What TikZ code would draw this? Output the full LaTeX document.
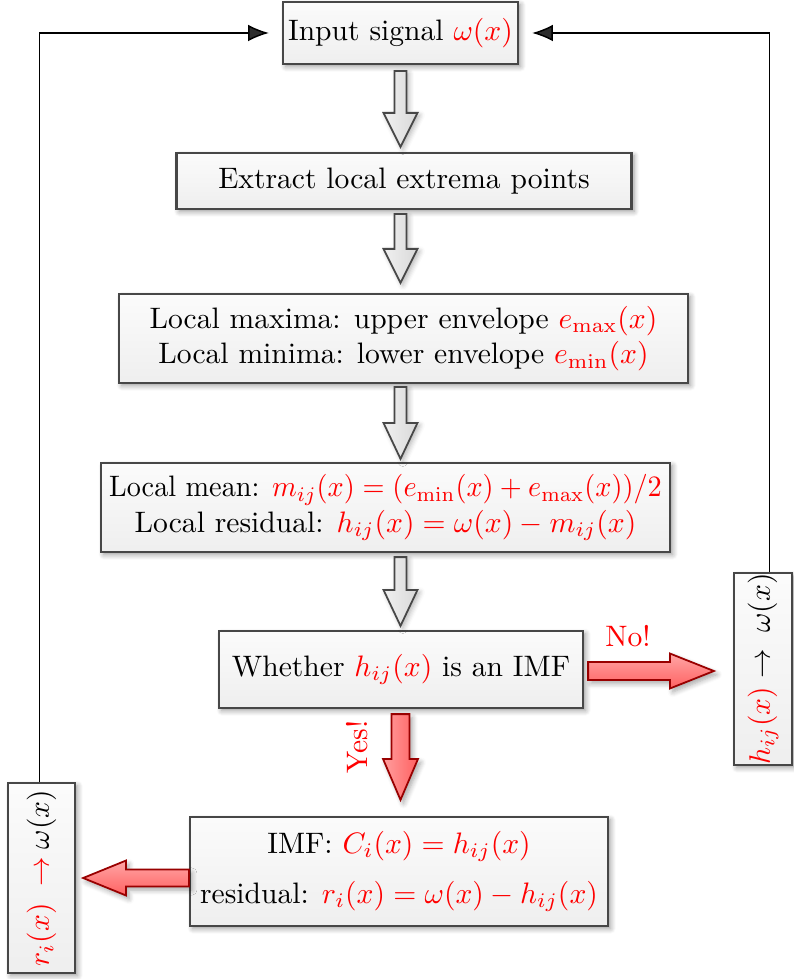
\documentclass[tikz,border=0pt]{standalone}
\usetikzlibrary{shadows,shadows.blur,arrows.meta,calc}
\def\upx{0.338pt}
\newcommand\vblock[6]{\path[#1] let \p1=(#2), \p2=(#3) in
 (\x1-#4*\upx,\y1) -- (\x1+#4*\upx,\y1) -- (\x1+#4*\upx,\y2+#6*\upx) -- (\x1+#5*\upx,\y2+#6*\upx) -- (\x1,\y2) -- (\x1-#5*\upx,\y2+#6*\upx) -- (\x1-#4*\upx,\y2+#6*\upx) -- cycle;}
\newcommand\hblock[6]{\path[#1] let \p1=(#2), \p2=(#3) in
 (\x1,\y1-#4*\upx) -- (\x1,\y1+#4*\upx) -- (\x2-#6*\upx,\y1+#4*\upx) -- (\x2-#6*\upx,\y1+#5*\upx) -- (\x2,\y1) -- (\x2-#6*\upx,\y1-#5*\upx) -- (\x2-#6*\upx,\y1-#4*\upx) -- cycle;}
\newcommand\rd[1]{\textcolor{red}{#1}}
\begin{document}
\begin{tikzpicture}[x=0.338pt, y=-0.338pt,
  box/.style={draw=black!72, line width=0.75pt, top color=gray!3, bottom color=gray!13,
    blur shadow={shadow xshift=0.9pt, shadow yshift=-0.9pt, shadow blur steps=6, shadow opacity=40},
    align=center, inner sep=0pt},
  garrow/.style={draw=black!72, line width=0.6pt, left color=gray!12, right color=gray!30,
    blur shadow={shadow xshift=0.8pt, shadow yshift=-0.8pt, shadow blur steps=5, shadow opacity=30}},
  rarrow/.style={draw=red!60!black, line width=0.6pt, top color=red!35, bottom color=red!62,
    blur shadow={shadow xshift=1pt, shadow yshift=-1.2pt, shadow blur steps=6, shadow opacity=35}},
  rarrowv/.style={draw=red!60!black, line width=0.6pt, left color=red!38, right color=red!62,
    blur shadow={shadow xshift=1pt, shadow yshift=-1.2pt, shadow blur steps=6, shadow opacity=35}},
  fb/.style={line width=0.5pt, -{Latex[length=7pt, width=5.6pt]}},
  lbl/.style={text=red, inner sep=0pt}
]
\useasboundingbox (0,0) rectangle (793,979);

% boxes
\node[box, minimum width=235*\upx, minimum height=62*\upx] (in) at (400.5,33) {Input signal \rd{$\omega(x)$}};
\node[box, minimum width=455*\upx, minimum height=56*\upx] (ex) at (404,181) {Extract local extrema points};
\node[box, minimum width=569*\upx, minimum height=89*\upx] (mx) at (403.5,338.5)
  {Local maxima: upper envelope \rd{$e_{\max}(x)$}\\ Local minima: lower envelope \rd{$e_{\min}(x)$}};
\node[box, minimum width=569*\upx, minimum height=89*\upx] (mn) at (385.5,507.5)
  {\scalebox{0.955}[1]{Local mean: \rd{$m_{ij}(x)=(e_{\min}(x)+e_{\max}(x))/2$}}\\ Local residual: \rd{$h_{ij}(x)=\omega(x)-m_{ij}(x)$}};
\node[box, minimum width=364*\upx, minimum height=77*\upx] (wh) at (401,669.5) {Whether \rd{$h_{ij}(x)$} is an IMF};
\node[box, minimum width=418*\upx, minimum height=109*\upx] (imf) at (399,871.5)
  {IMF: \rd{$C_i(x)=h_{ij}(x)$}\\[5pt] residual: \rd{$r_i(x)=\omega(x)-h_{ij}(x)$}};
\node[box, minimum width=58*\upx, minimum height=192*\upx] (rb) at (763,669)
  {\rotatebox{90}{\rd{$h_{ij}(x)$}$\;\rightarrow\;\omega(x)$}};
\node[box, minimum width=67*\upx, minimum height=190*\upx] (lb) at (41.5,878)
  {\rotatebox{90}{\rd{$r_i(x)\;\rightarrow$}$\;\omega(x)$}};

% gray block arrows
\vblock{garrow}{$(in.south)+(0,6)$}{$(ex.north -| in.south)+(0,-5)$}{6}{17}{34}
\vblock{garrow}{$(ex.south -| in.south)+(0,4)$}{$(mx.north -| in.south)+(0,-10)$}{6}{17}{34}
\vblock{garrow}{$(mx.south -| in.south)+(0,3)$}{$(mn.north -| in.south)+(0,-3)$}{6}{17}{36}
\vblock{garrow}{$(mn.south -| in.south)+(0,4)$}{$(wh.north -| in.south)+(0,-4)$}{6}{17}{36}

% red block arrows
\vblock{rarrowv}{$(wh.south -| in.south)+(0,5)$}{$(imf.north -| in.south)+(0,-16)$}{9}{17.5}{41}
\hblock{rarrow}{$(wh.east)+(4,1.5)$}{$(rb.west |- wh.east)+(-19,1.5)$}{9}{17.5}{44}
\hblock{rarrow}{$(imf.west |- lb.east)$}{$(lb.east)+(7,0)$}{8.5}{17.5}{-43}

% labels
\node[lbl] (no) at (628,636) {No!};
\node[lbl, rotate=90] (yes) at (357,747) {Yes!};

% feedback lines
\draw[fb, shorten >=13*\upx] ($(lb.north)+(-2,0)$) |- (in.west);
\draw[fb, shorten >=13*\upx] ($(rb.north)+(6.5,0)$) |- (in.east);
\end{tikzpicture}
\end{document}
